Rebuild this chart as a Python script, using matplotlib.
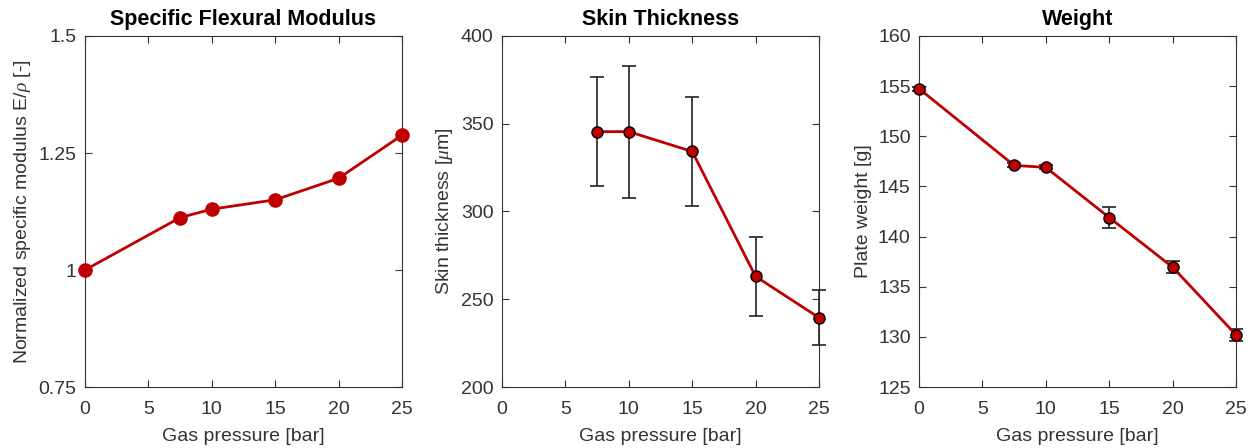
import matplotlib.pyplot as plt
from matplotlib.ticker import FixedLocator, FixedFormatter

plt.rcParams["font.family"] = ["Liberation Sans", "DejaVu Sans"]
plt.rcParams["mathtext.fontset"] = "custom"
plt.rcParams["mathtext.it"] = "Liberation Serif:italic"

# Gas pressure [bar]
pressure = [0, 7.5, 10, 15, 20, 25]

# Specific flexural modulus (normalized)
modulus = [1.0, 1.112, 1.130, 1.150, 1.196, 1.288]

# Skin thickness [um] (no value at 0 bar)
skin_p = [7.5, 10, 15, 20, 25]
skin = [345.5, 345.5, 334.2, 263.0, 239.5]
skin_err = [31.2, 37.6, 31.2, 22.5, 15.6]

# Plate weight [g]
weight = [154.75, 147.1, 146.9, 141.9, 136.95, 130.2]
weight_err = [0.2, 0.2, 0.2, 1.05, 0.6, 0.6]

RED = "#c00000"
TXT = "#333333"

fig = plt.figure(figsize=(12.53, 4.48), dpi=100)
W, H = 1253, 448
lefts = [85, 502, 919]
aw, top, bottom = 317, 36, 387
axes = []
for l in lefts:
    ax = fig.add_axes([l / W, 1 - bottom / H, aw / W, (bottom - top) / H])
    axes.append(ax)


def style(ax, title, ylabel, yticks, ylabels):
    ax.set_xlim(0, 25)
    ax.set_ylim(yticks[0], yticks[-1])
    ax.xaxis.set_major_locator(FixedLocator([0, 5, 10, 15, 20, 25]))
    ax.yaxis.set_major_locator(FixedLocator(yticks))
    ax.yaxis.set_major_formatter(FixedFormatter(ylabels))
    ax.tick_params(direction="in", top=True, right=True, length=5,
                   width=0.8, colors=TXT, labelsize=14)
    ax.tick_params(axis="x", pad=10)
    ax.tick_params(axis="y", pad=6)
    for s in ax.spines.values():
        s.set_color(TXT)
        s.set_linewidth(0.8)
    ax.set_title(title, fontsize=15.5, fontweight="bold", color="black", pad=8)
    ax.set_xlabel("Gas pressure [bar]", fontsize=14, color=TXT, labelpad=7)
    ax.set_ylabel(ylabel, fontsize=14, color=TXT, labelpad=4)


ax = axes[0]
ax.plot(pressure, modulus, color=RED, lw=2, marker="o", ms=9.5,
        mfc=RED, mec=RED, clip_on=False, zorder=3)
style(ax, "Specific Flexural Modulus",
      "Normalized specific modulus E/$\\rho$ [-]",
      [0.75, 1.0, 1.25, 1.5], ["0.75", "1", "1.25", "1.5"])

ax = axes[1]
ax.errorbar(skin_p, skin, yerr=skin_err, fmt="none", ecolor="#222222",
            elinewidth=1.2, capsize=5, capthick=1.2, zorder=2, clip_on=False)
ax.plot(skin_p, skin, color=RED, lw=2, marker="o", ms=8,
        mfc=RED, mec="black", mew=1, clip_on=False, zorder=3)
style(ax, "Skin Thickness", "Skin thickness [$\\mu$m]",
      [200, 250, 300, 350, 400], ["200", "250", "300", "350", "400"])

ax = axes[2]
ax.errorbar(pressure, weight, yerr=weight_err, fmt="none", ecolor="#222222",
            elinewidth=1.2, capsize=5, capthick=1.2, zorder=2, clip_on=False)
ax.plot(pressure, weight, color=RED, lw=2, marker="o", ms=8,
        mfc=RED, mec="black", mew=1, clip_on=False, zorder=3)
style(ax, "Weight", "Plate weight [g]",
      [125, 130, 135, 140, 145, 150, 155, 160],
      ["125", "130", "135", "140", "145", "150", "155", "160"])

fig.savefig("out.png", dpi=100)
